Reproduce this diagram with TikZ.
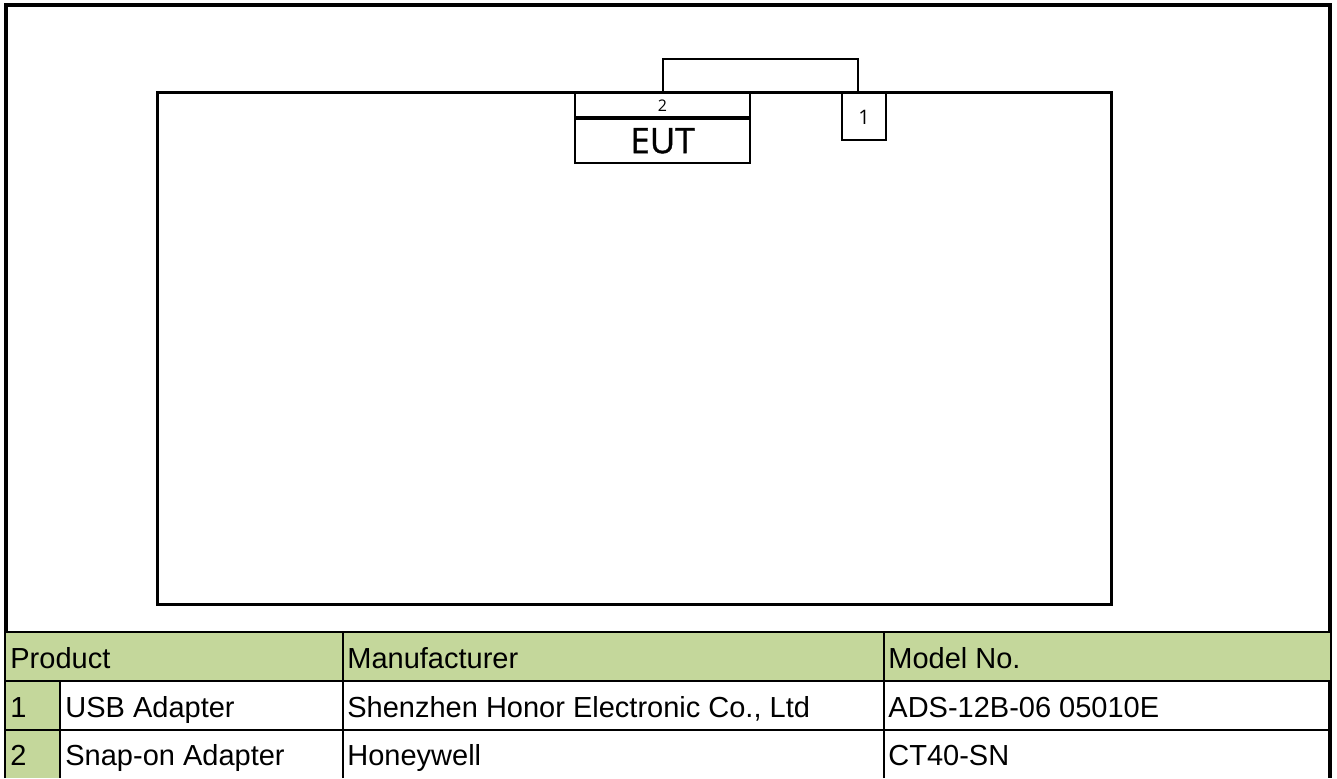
\documentclass[tikz,border=0pt]{standalone}
\usepackage{fontspec}
\setmainfont{Liberation Sans}
\newfontfamily\labelfont{Open Sans}
\newfontfamily\eutfont[FakeBold=1.2]{Open Sans}
\usetikzlibrary{calc}
\definecolor{HeadGreen}{HTML}{C4D79B}

\begin{document}
\begin{tikzpicture}[x=0.5pt,y=0.5pt,
  font=\fontsize{14.5}{16}\selectfont,
  unit/.style={draw,line width=1pt,inner sep=0pt,anchor=north},
  cell/.style={anchor=base west,inner sep=0pt}]
  \path[use as bounding box] (0,0) rectangle (1337,778);
  % outer frame
  \draw[line width=2pt] (6,0)--(6,772.5)--(1330,772.5)--(1330,0);
  % test setup
  \node[draw,line width=1.5pt,minimum width=477pt,minimum height=256pt,
    inner sep=0pt] (table) at (634,429.5) {};
  \node[unit,minimum width=87.5pt,minimum height=11.75pt,
    font=\labelfont\fontsize{8}{9}\selectfont] (port2) at (662.5,685.5) {2};
  \node[unit,line width=0.8pt,minimum width=87.5pt,minimum height=22pt,
    font=\eutfont\fontsize{17.5}{18}\selectfont] (eut) at (port2.south) {EUT};
  \node[unit,minimum width=22pt,minimum height=23.5pt,
    font=\labelfont\fontsize{10}{11}\selectfont] (adapter) at (864,685.5) {1};
  \draw[line width=1pt] (port2.north)|-($(adapter.north)+(-6,33)$)
    --($(adapter.north)+(-6,0)$);
  % equipment list
  \fill[HeadGreen] (6,97) rectangle (1330,146);
  \fill[HeadGreen] (6,0) rectangle (60,97);
  \draw[line width=1.2pt] (6,146)--(1330,146);
  \draw[line width=1.2pt] (6,97)--(1330,97);
  \draw[line width=1.2pt] (6,48)--(1330,48);
  \draw[line width=1.2pt] (60,0)--(60,97);
  \draw[line width=1.2pt] (343,0)--(343,146);
  \draw[line width=1.2pt] (884,0)--(884,146);
  \node[cell] (hproduct) at (10,110) {Product};
  \node[cell] (hmaker) at (347,110) {Manufacturer};
  \node[cell] (hmodel) at (888,110) {Model No.};
  \node[cell] (n1) at (10,61) {1};
  \node[cell] (prod1) at (65,61) {USB Adapter};
  \node[cell] (maker1) at (347,61) {Shenzhen Honor Electronic Co., Ltd};
  \node[cell] (model1) at (888,61) {ADS-12B-06 05010E};
  \node[cell] (n2) at (10,13) {2};
  \node[cell] (prod2) at (65,13) {Snap-on Adapter};
  \node[cell] (maker2) at (347,13) {Honeywell};
  \node[cell] (model2) at (888,13) {CT40-SN};
\end{tikzpicture}
\end{document}
